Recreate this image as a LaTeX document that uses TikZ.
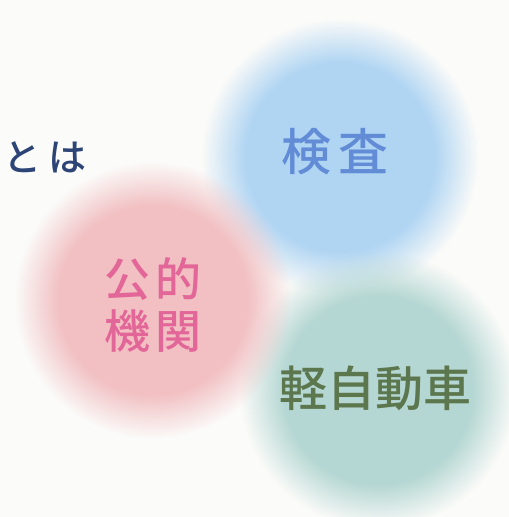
\documentclass[tikz,border=0pt]{standalone}
\usepackage{fontspec}
\newfontfamily\jpfont{Noto Sans CJK JP}[UprightFont=* Medium]
\usetikzlibrary{fadings}

\definecolor{paper}{RGB}{251,251,249}
\definecolor{skyblob}{RGB}{176,213,243}
\definecolor{pinkblob}{RGB}{242,192,195}
\definecolor{mintblob}{RGB}{181,215,211}
\definecolor{navytext}{RGB}{45,68,118}
\definecolor{bluetext}{RGB}{98,140,214}
\definecolor{pinktext}{RGB}{226,102,152}
\definecolor{greentext}{RGB}{92,118,78}

\pgfdeclareradialshading{softdiscshade}{\pgfpointorigin}{color(0bp)=(pgftransparent!0); color(17bp)=(pgftransparent!0); color(25bp)=(pgftransparent!100); color(50bp)=(pgftransparent!100)}
\pgfdeclarefading{softdisc}{\pgfuseshading{softdiscshade}}

\begin{document}
\begin{tikzpicture}[x=1bp, y=-1bp]
      \tikzstyle{every node}=[inner sep=0pt, font=\jpfont]
      \tikzstyle{blob}=[path fading=softdisc]
      \def \radius {138}
      \fill[paper] (0,0) rectangle (509,517);
      \useasboundingbox (0,0) rectangle (509,517);
      % three soft discs
      \fill[blob, skyblob]  (340,157) circle (\radius);
      \fill[blob, mintblob] (378,390) circle (\radius);
      \fill[blob, pinkblob] (153,300) circle (\radius);
      % words
      \node[text=navytext, font=\jpfont\fontsize{38bp}{40bp}\selectfont]
        (toha) at (45,157) {と\kern8bp は};
      \node[text=bluetext, font=\jpfont\fontsize{50bp}{52bp}\selectfont]
        (kensa) at (335,152) {検\kern8bp 査};
      \node[text=pinktext, font=\jpfont\fontsize{46bp}{52bp}\selectfont, align=center]
        (kikan) at (153,305) {公\kern6bp 的\\機\kern6bp 関};
      \node[text=greentext, font=\jpfont\fontsize{48bp}{50bp}\selectfont]
        (kei) at (375,388) {軽自動車};
\end{tikzpicture}
\end{document}
